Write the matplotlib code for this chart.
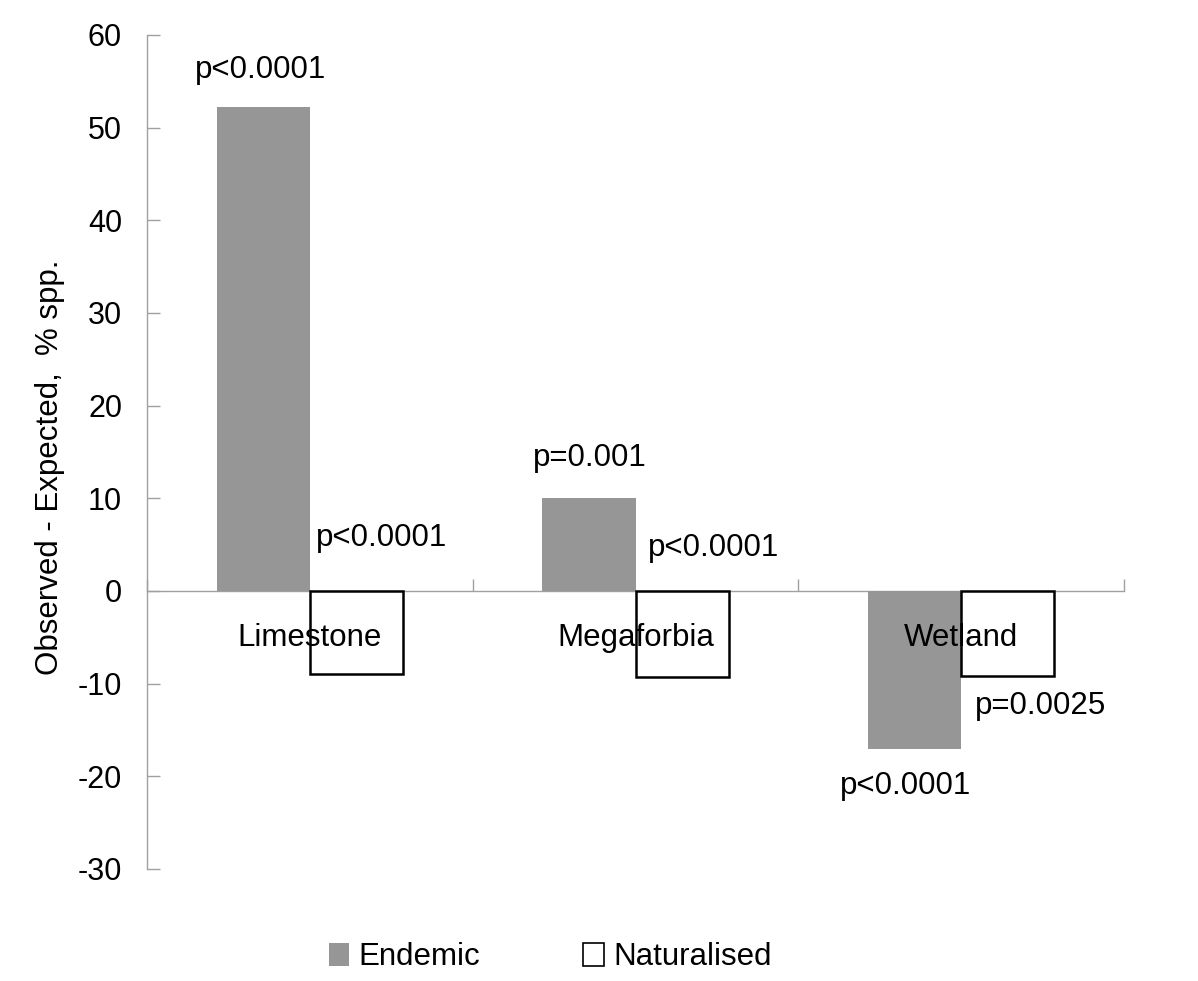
import matplotlib
matplotlib.use("Agg")
import matplotlib.pyplot as plt
from matplotlib.patches import Patch
import numpy as np

plt.rcParams['font.family'] = ['Liberation Sans', 'DejaVu Sans']

categories = ["Limestone", "Megaforbia", "Wetland"]
endemic = [52.2, 10.0, -17.0]
naturalised = [-9.0, -9.3, -9.2]
endemic_p = ["p<0.0001", "p=0.001", "p<0.0001"]
naturalised_p = ["p<0.0001", "p<0.0001", "p=0.0025"]
# label anchor positions (x offset from category centre, y in data units)
endemic_p_pos = [(-0.15, 56.2), (-0.14, 14.4), (-0.17, -21.0)]
naturalised_p_pos = [(0.22, 5.7), (0.24, 4.6), (0.245, -12.4)]
yticks = [-30, -20, -10, 0, 10, 20, 30, 40, 50, 60]

fig = plt.figure(figsize=(11.98, 9.81), dpi=100)
W, H = 1198, 981
ax = fig.add_axes([147 / W, 1 - 869 / H, (1124 - 147) / W, (869 - 35) / H])

x = np.arange(len(categories))
w = 0.286
ax.bar(x - w / 2, endemic, w, color="#969696", edgecolor="none", zorder=2)
ax.bar(x + w / 2, naturalised, w, color="white", edgecolor="black", linewidth=1.8, zorder=2)

ax.set_xlim(-0.5, 2.5)
ax.set_ylim(-30, 60)
ax.set_yticks(yticks)
ax.set_yticklabels([str(t) for t in yticks], fontsize=22)

ax.spines['top'].set_visible(False)
ax.spines['right'].set_visible(False)
ax.spines['bottom'].set_position(('data', 0))
for s in ('left', 'bottom'):
    ax.spines[s].set_color('#a0a0a0')
    ax.spines[s].set_linewidth(1.0)
    ax.spines[s].set_zorder(1)

ax.set_xticks([-0.5, 0.5, 1.5, 2.5])
ax.set_xticklabels([])
ax.tick_params(axis='x', direction='in', length=9, color='#a0a0a0', width=1.0)
ax.tick_params(axis='y', direction='in', length=9, color='#a0a0a0', width=1.0, pad=18)

for i, c in enumerate(categories):
    ax.text(i, -5.1, c, ha='center', va='center', fontsize=22.5, zorder=5)
for i in range(len(categories)):
    dx, yy = endemic_p_pos[i]
    ax.text(i + dx, yy, endemic_p[i], ha='center', va='center', fontsize=22.5, zorder=5)
    dx, yy = naturalised_p_pos[i]
    ax.text(i + dx, yy, naturalised_p[i], ha='center', va='center', fontsize=22.5, zorder=5)

fig.text(50 / W, 1 - 467 / H, "Observed - Expected,  % spp.", rotation=90,
         ha='center', va='center', fontsize=22.5)

handles = [Patch(facecolor="#969696", edgecolor="none", label="Endemic"),
           Patch(facecolor="white", edgecolor="black", linewidth=1.2, label="Naturalised")]
fig.legend(handles=handles, loc='center', bbox_to_anchor=(550 / W, 1 - 957 / H), ncol=2,
           frameon=False, fontsize=22.5, handlelength=0.65, handleheight=0.75,
           handletextpad=0.3, columnspacing=3.3)

fig.savefig("out.png", dpi=100)
